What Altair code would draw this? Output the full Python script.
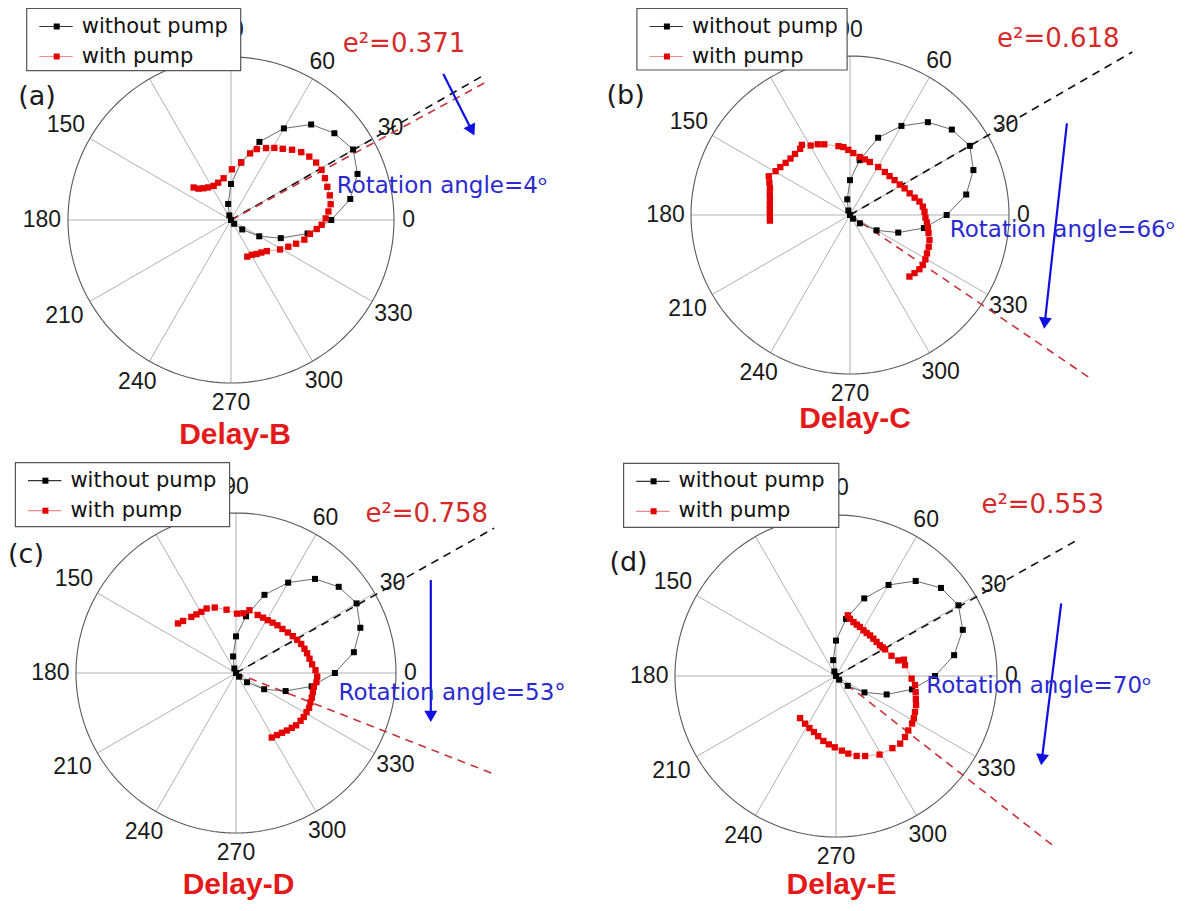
import math
import altair as alt
import pandas as pd

# ---------------- data ----------------
ANGLE_TICKS = [0, 30, 60, 90, 120, 150, 180, 210, 240, 270, 300, 330]

BLACK_THETA = [-60, -50, -40, -30, -20, -10, 0, 10, 20, 30, 40, 50, 60, 70, 80, 90, 100, 110, 120]
A_BLACK_R = [0.0, 0.03, 0.09, 0.20, 0.325, 0.477, 0.615, 0.743, 0.826, 0.865, 0.828, 0.765, 0.649, 0.51, 0.359, 0.221, 0.10, 0.03, 0.0]
B_BLACK_R = [0.0, 0.03, 0.081, 0.193, 0.323, 0.472, 0.608, 0.742, 0.826, 0.87, 0.836, 0.762, 0.647, 0.517, 0.35, 0.219, 0.10, 0.03, 0.0]
C_BLACK_R = [0.0, 0.03, 0.09, 0.203, 0.33, 0.48, 0.618, 0.748, 0.827, 0.87, 0.838, 0.768, 0.652, 0.52, 0.36, 0.229, 0.105, 0.03, 0.0]
D_BLACK_R = [0.0, 0.03, 0.095, 0.204, 0.335, 0.479, 0.615, 0.745, 0.838, 0.878, 0.851, 0.77, 0.653, 0.513, 0.36, 0.22, 0.10, 0.03, 0.0]

A_RED_THETA = [139, 136, 131, 125, 117, 109, 100, 89, 80, 74, 70, 64, 59, 54, 49, 44, 39, 34, 29, 24, 19, 14, 9, 5, 1,
               -3, -6, -10, -15, -20, -25, -31, -41, -47, -53, -59, -66]
A_RED_R = [0.304, 0.277, 0.258, 0.244, 0.235, 0.242, 0.26, 0.311, 0.358, 0.425, 0.463, 0.491, 0.516, 0.54, 0.571, 0.599,
           0.618, 0.63, 0.635, 0.631, 0.625, 0.625, 0.619, 0.6, 0.581, 0.557, 0.529, 0.492, 0.466, 0.425, 0.388, 0.351,
           0.291, 0.273, 0.261, 0.249, 0.246]

B_RED_THETA = [184, 180, 176.5, 173, 169, 165.5, 161.5, 158, 154.5, 149.5, 145.5, 141, 136.5, 132, 127, 124.5, 119.5,
               114.5, 110, 99.5, 95.5, 91.5, 87, 80.5, 75, 69.5, 59.5, 51, 44.5, 38, 31.5, 26, 20, 15, 11, 6.5, 2.5,
               -2, -5.5, -9.5, -13, -17.5, -22, -26.5, -30.5, -34.5, -38, -42, -46]
B_RED_R = [0.505, 0.504, 0.505, 0.508, 0.513, 0.521, 0.531, 0.547, 0.566, 0.543, 0.532, 0.521, 0.516, 0.517, 0.521,
           0.535, 0.502, 0.489, 0.473, 0.439, 0.429, 0.41, 0.39, 0.37, 0.362, 0.356, 0.35, 0.348, 0.349, 0.356, 0.367,
           0.382, 0.399, 0.421, 0.445, 0.461, 0.469, 0.475, 0.486, 0.497, 0.507, 0.524, 0.534, 0.541, 0.55, 0.555,
           0.554, 0.546, 0.538]

C_RED_THETA = [139.5, 135.5, 128.5, 124, 119.5, 114.5, 108, 98.5, 89, 83, 78, 69.5, 64, 59, 54, 49, 43.5, 38, 33,
               28.5, 24, 19.5, 15.5, 11, 6.5, 2, -2.5, -6.5, -10, -14, -18, -21.5, -25.5, -29, -33, -36.5, -41,
               -44.5, -48.5, -52.5, -56.5, -61]
C_RED_R = [0.477, 0.464, 0.448, 0.442, 0.439, 0.443, 0.43, 0.4, 0.371, 0.376, 0.401, 0.387, 0.385, 0.385, 0.389,
           0.395, 0.4, 0.411, 0.423, 0.435, 0.446, 0.454, 0.461, 0.468, 0.479, 0.497, 0.508, 0.506, 0.494, 0.495,
           0.498, 0.5, 0.506, 0.504, 0.505, 0.502, 0.498, 0.489, 0.48, 0.471, 0.465, 0.461]

D_RED_THETA = [79, 76.3, 72, 68, 64, 59, 54.5, 50, 45, 40, 35, 31.5, 28.5, 20, 14, 13.5, 9, -2, -6.5, -11.5, -16,
               -20, -24.5, -28.5, -32, -37, -41.5, -46.5, -52, -61, -70, -75.5, -81, -85.5, -91, -96, -101, -106.5,
               -111.5, -117, -123, -130.5]
D_RED_R = [0.384, 0.366, 0.352, 0.344, 0.339, 0.331, 0.328, 0.329, 0.328, 0.329, 0.333, 0.34, 0.347, 0.367, 0.399,
           0.434, 0.434, 0.47, 0.494, 0.505, 0.516, 0.529, 0.539, 0.55, 0.557, 0.562, 0.572, 0.579, 0.569, 0.558,
           0.529, 0.513, 0.488, 0.465, 0.443, 0.427, 0.411, 0.39, 0.374, 0.363, 0.353, 0.344]

PANEL_TAGS = ["(a)", "(b)", "(c)", "(d)"]
DELAYS = ["Delay-B", "Delay-C", "Delay-D", "Delay-E"]
E2_VALUES = ["0.371", "0.618", "0.758", "0.553"]
ROT_ANGLES = [4, 66, 53, 70]
ROT_SUFFIX = ["\u1d52", "\u1d52", "\u00b0", "\u1d52"]
SERIES = ["without pump", "with pump"]
# orientation of the dashed major-axis lines as drawn (degrees)
AXIS_BLACK_DEG = [29.8, 30.0, 29.3, 29.4]
AXIS_RED_DEG = [28.4, -34.2, -21.4, -38.0]

# ---------------- layout / style ----------------
LABEL_FONT = "Liberation Sans"
ANN_FONT = "DejaVu Sans"
RED = "#e50000"
DASH_RED = "#c8323a"
BLUE = "#1010e0"
TXT_BLUE = "#2a2ad0"
TXT_RED = "#d42a2a"

PANEL_W = 589
PANEL_H = 447
ROW2_SHIFT = -5

LABEL_R = {0: 1.09, 30: 1.13, 60: 1.12, 90: 1.165, 120: 1.15, 150: 1.17, 180: 1.16, 210: 1.18,
           240: 1.15, 270: 1.125, 300: 1.14, 330: 1.15}

LAYOUT = [
    dict(origin=(8, 8), center=(231, 220), R=163, dash_len=(1.77, 1.77),
         legend=(26.7, 8.5, 240.7, 70.7), arrow=((443.3, 74), (475, 136.7)),
         e2=(342.7, 52.3), rot=(336.7, 193.3), tag=(37, 97), delay=(235, 444)),
    dict(origin=(8 + PANEL_W, 8), center=(850, 215), R=159, dash_len=(2.05, 1.83),
         legend=(636.9, 8.5, 847.1, 70), arrow=((1066.9, 123.3), (1044, 330)),
         e2=(997, 46.7), rot=(949.8, 236.7), tag=(625.6, 96), delay=(855, 428.3)),
    dict(origin=(8, 8 + PANEL_H), center=(236, 678), R=160, dash_len=(1.85, 1.72),
         legend=(15.4, 467.7, 229.6, 531.7), arrow=((430.8, 585), (430.8, 728.3)),
         e2=(365.4, 526.7), rot=(338.5, 705), tag=(26, 560), delay=(238.5, 899)),
    dict(origin=(8 + PANEL_W, 8 + PANEL_H), center=(836, 681), R=161, dash_len=(1.72, 1.72),
         legend=(623.6, 468.3, 838.8, 532.3), arrow=((1061.2, 608.3), (1041, 771.7)),
         e2=(981.4, 518.3), rot=(926.2, 698.3), tag=(628.5, 567.5), delay=(841.5, 899)),
]

BLACK_R = [A_BLACK_R, B_BLACK_R, C_BLACK_R, D_BLACK_R]
RED_TH = [A_RED_THETA, B_RED_THETA, C_RED_THETA, D_RED_THETA]
RED_R = [A_RED_R, B_RED_R, C_RED_R, D_RED_R]


def build_panel(k):
    L = LAYOUT[k]
    cx, cy = L["center"]
    R = L["R"]
    ox, oy = L["origin"]
    shift = ROW2_SHIFT if oy > 8 else 0
    lx = cx - ox
    ly = cy + shift - oy
    xs = alt.Scale(domain=[-lx / R, (PANEL_W - lx) / R], nice=False, zero=False)
    ys = alt.Scale(domain=[-(PANEL_H - ly) / R, ly / R], nice=False, zero=False)

    def X(f):
        return alt.X(f"{f}:Q", scale=xs, axis=None)

    def Y(f):
        return alt.Y(f"{f}:Q", scale=ys, axis=None)

    def P(Xp, Yp):
        return ((Xp - cx) / R, (cy - Yp) / R)

    layers = []

    # radial grid lines
    layers.append(
        alt.Chart(pd.DataFrame({"a": ANGLE_TICKS}))
        .transform_calculate(x0="0", y0="0", x1="cos(datum.a*PI/180)", y1="sin(datum.a*PI/180)")
        .mark_rule(color="#a8a8a8", strokeWidth=0.9, clip=True)
        .encode(x=X("x0"), y=Y("y0"), x2="x1:Q", y2="y1:Q")
    )
    # outer circle
    layers.append(
        alt.Chart(alt.sequence(0, 362, 2, as_="t"))
        .transform_calculate(x="cos(datum.t*PI/180)", y="sin(datum.t*PI/180)")
        .mark_line(color="#5a5a5a", strokeWidth=1.1, clip=True)
        .encode(x=X("x"), y=Y("y"), order="t:Q")
    )
    # angle labels
    layers.append(
        alt.Chart(pd.DataFrame({"a": ANGLE_TICKS, "lr": [LABEL_R[a] for a in ANGLE_TICKS]}))
        .transform_calculate(x="datum.lr*cos(datum.a*PI/180)", y="datum.lr*sin(datum.a*PI/180)")
        .mark_text(font=LABEL_FONT, fontSize=23, color="#1a1a1a", align="center", baseline="middle", clip=True)
        .encode(x=X("x"), y=Y("y"), text="a:N")
    )

    # legend box
    bx1, by1, bx2, by2 = L["legend"]
    p1 = P(bx1, by1)
    p2 = P(bx2, by2)
    layers.append(
        alt.Chart(pd.DataFrame({"x": [p1[0]], "y": [p1[1]], "x2": [p2[0]], "y2": [p2[1]]}))
        .mark_rect(fill="white", stroke="#555555", strokeWidth=1.2, clip=True)
        .encode(x=X("x"), y=Y("y"), x2="x2:Q", y2="y2:Q")
    )
    rows = []
    for i, (name, lc, mc) in enumerate(zip(SERIES, ["#333333", "#f08a8a"], ["black", RED])):
        yy = by1 + 18 + 30 * i
        a1 = P(bx1 + 12.6, yy)
        a2 = P(bx1 + 46, yy)
        am = P(bx1 + 30, yy)
        at = P(bx1 + 55, yy)
        rows.append(dict(s=name, lx1=a1[0], lx2=a2[0], ly=a1[1], mx=am[0], tx=at[0], lc=lc, mc=mc))
    leg = pd.DataFrame(rows)
    layers.append(
        alt.Chart(leg).mark_rule(strokeWidth=1.2, clip=True)
        .encode(x=X("lx1"), x2="lx2:Q", y=Y("ly"), color=alt.Color("lc:N", scale=None))
    )
    layers.append(
        alt.Chart(leg).mark_square(size=36, opacity=1, clip=True)
        .encode(x=X("mx"), y=Y("ly"), color=alt.Color("mc:N", scale=None))
    )
    layers.append(
        alt.Chart(leg).mark_text(font=ANN_FONT, fontSize=21, color="#111111", align="left", baseline="middle",
                                 clip=True)
        .encode(x=X("tx"), y=Y("ly"), text="s:N")
    )

    # dashed major-axis lines (without pump / with pump)
    dash = pd.DataFrame({
        "kind": ["black", "red"],
        "ang": [AXIS_BLACK_DEG[k], AXIS_RED_DEG[k]],
        "len": list(L["dash_len"]),
    })
    layers.append(
        alt.Chart(dash)
        .transform_calculate(x0="0", y0="0",
                             x1="datum.len*cos(datum.ang*PI/180)", y1="datum.len*sin(datum.ang*PI/180)")
        .mark_rule(strokeWidth=1.6, strokeDash=[8, 6], clip=True)
        .encode(x=X("x0"), y=Y("y0"), x2="x1:Q", y2="y1:Q",
                color=alt.Color("kind:N", scale=alt.Scale(domain=["black", "red"], range=["#111111", DASH_RED]),
                                legend=None))
    )

    # without pump series
    bdf = pd.DataFrame({"i": range(len(BLACK_THETA)), "th": BLACK_THETA, "r": BLACK_R[k]})
    bbase = alt.Chart(bdf).transform_calculate(x="datum.r*cos(datum.th*PI/180)", y="datum.r*sin(datum.th*PI/180)")
    layers.append(bbase.mark_line(color="#444444", strokeWidth=0.8, clip=True)
                  .encode(x=X("x"), y=Y("y"), order="i:Q"))
    layers.append(bbase.mark_square(size=36, color="black", opacity=1, clip=True).encode(x=X("x"), y=Y("y")))

    # with pump series
    rdf = pd.DataFrame({"i": range(len(RED_TH[k])), "th": RED_TH[k], "r": RED_R[k]})
    rbase = alt.Chart(rdf).transform_calculate(x="datum.r*cos(datum.th*PI/180)", y="datum.r*sin(datum.th*PI/180)")
    layers.append(rbase.mark_line(color="#f08a8a", strokeWidth=0.8, clip=True)
                  .encode(x=X("x"), y=Y("y"), order="i:Q"))
    layers.append(rbase.mark_square(size=40, color=RED, opacity=1, clip=True).encode(x=X("x"), y=Y("y")))

    # blue arrow
    (sx, sy), (ex, ey) = L["arrow"]
    s = P(sx, sy)
    e = P(ex, ey)
    dx, dy = e[0] - s[0], e[1] - s[1]
    n = math.hypot(dx, dy)
    back = 7.0 / R
    c = (e[0] - dx / n * back, e[1] - dy / n * back)
    ang = (math.degrees(math.atan2(dx, dy)) + 360) % 360
    layers.append(
        alt.Chart(pd.DataFrame({"x": [s[0]], "y": [s[1]], "x2": [c[0]], "y2": [c[1]]}))
        .mark_rule(color=BLUE, strokeWidth=2.2, clip=True)
        .encode(x=X("x"), y=Y("y"), x2="x2:Q", y2="y2:Q")
    )
    layers.append(
        alt.Chart(pd.DataFrame({"x": [c[0]], "y": [c[1]], "ang": [ang]}))
        .mark_point(shape="triangle-up", filled=True, size=170, color=BLUE, opacity=1, clip=True)
        .encode(x=X("x"), y=Y("y"), angle=alt.Angle("ang:Q", scale=None))
    )

    def text_layer(pos, txt, **kw):
        q = P(*pos)
        return (alt.Chart(pd.DataFrame({"x": [q[0]], "y": [q[1]], "t": [txt]}))
                .mark_text(clip=True, **kw).encode(x=X("x"), y=Y("y"), text="t:N"))

    layers.append(text_layer(L["e2"], "e\u00b2=" + E2_VALUES[k], font=ANN_FONT, fontSize=26, color=TXT_RED,
                             align="left", baseline="alphabetic"))
    layers.append(text_layer(L["rot"], f"Rotation angle={ROT_ANGLES[k]}{ROT_SUFFIX[k]}", font=ANN_FONT,
                             fontSize=23, color=TXT_BLUE, align="left", baseline="alphabetic"))
    layers.append(text_layer(L["tag"], PANEL_TAGS[k], font=ANN_FONT, fontSize=27, color="#1a1a1a",
                             align="center", baseline="middle"))
    layers.append(text_layer(L["delay"], DELAYS[k], font=LABEL_FONT, fontSize=30, fontWeight="bold",
                             color="#e41a1a", align="center", baseline="alphabetic"))

    return alt.layer(*layers).properties(width=PANEL_W, height=PANEL_H)


chart = (
    alt.concat(*[build_panel(k) for k in range(4)], columns=2, spacing=0, bounds="flush")
    .properties(padding=0, background="white")
    .configure_view(stroke=None)
)

chart.save("out.html", embed_options={"renderer": "svg", "actions": False})
